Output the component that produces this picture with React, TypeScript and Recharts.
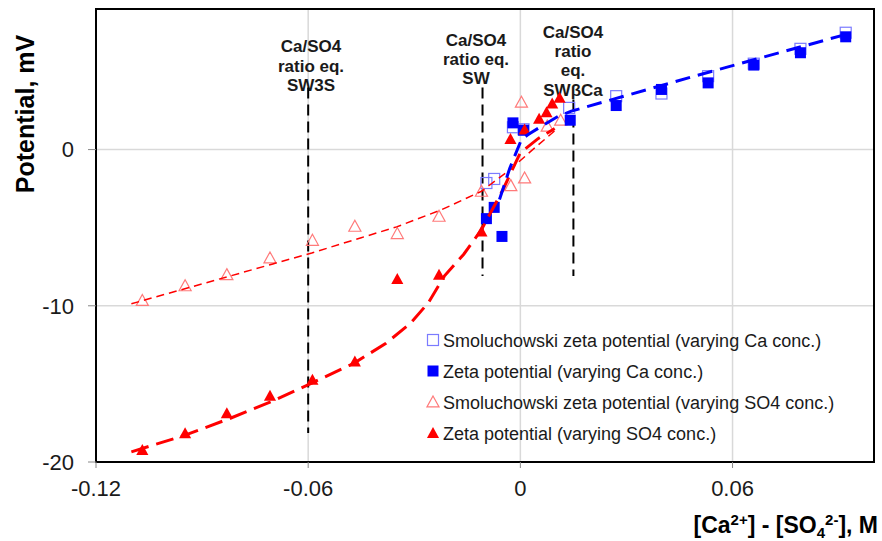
import React from "react";
import {
  ComposedChart,
  Scatter,
  XAxis,
  YAxis,
  CartesianGrid,
  ReferenceLine,
  ReferenceArea,
  Customized,
} from "recharts";

// ---------- data (x = [Ca2+]-[SO4 2-] in M, y = potential in mV) ----------
const xTicks = [-0.12, -0.06, 0, 0.06];
const yTicks = [-20, -10, 0];

const smolCaX = [0.092, 0.0792, 0.066, 0.0531, 0.0399, 0.0271, 0.0138, 0.0009, -0.0021, -0.0074, -0.0096];
const smolCaY = [7.48, 6.45, 5.5, 4.7, 3.59, 3.42, 2.67, 1.3, 1.43, -1.88, -2.14];

const zetaCaX = [0.092, 0.0792, 0.066, 0.0531, 0.0399, 0.0271, 0.0141, 0.0009, -0.0021, -0.0074, -0.0096, -0.0052];
const zetaCaY = [7.22, 6.2, 5.41, 4.27, 3.85, 2.82, 1.88, 1.24, 1.71, -3.7, -4.42, -5.56];

const smolSO4X = [-0.1069, -0.0948, -0.083, -0.0708, -0.0588, -0.0468, -0.0348, -0.023, -0.011, -0.0027, 0.0012, 0.0003, 0.0076, 0.0114];
const smolSO4Y = [-9.66, -8.72, -8.01, -6.94, -5.81, -4.91, -5.38, -4.27, -2.67, -2.31, -1.82, 3.03, 1.5, 1.88];

const zetaSO4X = [-0.1069, -0.0948, -0.083, -0.0708, -0.0588, -0.0468, -0.0348, -0.023, -0.011, -0.0028, 0.0012, 0.0053, 0.0074, 0.009, 0.0111];
const zetaSO4Y = [-19.23, -18.16, -16.88, -15.77, -14.74, -13.57, -8.29, -8.01, -5.24, 0.68, 1.28, 1.97, 2.39, 2.95, 3.31];

// trend lines
const trendCaX = [-0.0059, -0.003, 0.0003, 0.0022, 0.006, 0.0107, 0.0144, 0.05, 0.092];
const trendCaY = [-3.2, -1.2, 0.64, 0.96, 1.5, 2.13, 2.46, 4.75, 7.37];

const trendZetaSO4X = [-0.11, -0.095, -0.082, -0.07, -0.059, -0.047, -0.038, -0.031, -0.026, -0.0215, -0.016, -0.011, -0.005, 0, 0.005, 0.0097];
const trendZetaSO4Y = [-19.35, -18.3, -17.2, -16.1, -14.95, -13.67, -12.4, -11.1, -9.8, -8.1, -6.7, -5.13, -2.6, -0.2, 0.7, 1.35];

const trendSmolSO4X = [-0.11, -0.09, -0.07, -0.059, -0.045, -0.035, -0.0223, -0.011, -0.003, 0.003, 0.0097];
const trendSmolSO4Y = [-9.87, -8.6, -7.32, -6.62, -5.64, -4.95, -3.85, -2.67, -1.3, -0.1, 1.2];

// reference ratio lines
const refX = [-0.06, -0.0107, 0.015];
const refTop = [3.97, 3.97, 3.2];
const refBottom = [-18.14, -8.1, -8.1];

const legendLabels = [
  "Smoluchowski zeta potential (varying Ca conc.)",
  "Zeta potential (varying Ca conc.)",
  "Smoluchowski zeta potential (varying SO4 conc.)",
  "Zeta potential (varying SO4 conc.)",
];

const zip = (xs: number[], ys: number[]) => xs.map((x, i) => ({ x, y: ys[i] }));

const smolCa = zip(smolCaX, smolCaY);
const zetaCa = zip(zetaCaX, zetaCaY);
const smolSO4 = zip(smolSO4X, smolSO4Y);
const zetaSO4 = zip(zetaSO4X, zetaSO4Y);
const trendCa = zip(trendCaX, trendCaY);
const trendZetaSO4 = zip(trendZetaSO4X, trendZetaSO4Y);
const trendSmolSO4 = zip(trendSmolSO4X, trendSmolSO4Y);

// ---------- styles ----------
const FONT = "'Liberation Sans', Arial, Helvetica, sans-serif";
const BLUE = "#0000ff";
const LIGHT_BLUE = "#7b7bff";
const RED = "#ff0000";
const LIGHT_RED = "#ff7a7a";

const OpenSquare = (p: any) => (
  <rect x={p.cx - 5.5} y={p.cy - 5.5} width={11} height={11} fill="none" stroke={LIGHT_BLUE} strokeWidth={1.2} />
);
const FilledSquare = (p: any) => (
  <rect x={p.cx - 5.5} y={p.cy - 5.5} width={11} height={11} fill={BLUE} />
);
const triPath = (cx: number, cy: number, s: number) =>
  `M${cx},${cy - s * 0.55} L${cx + s * 0.55},${cy + s * 0.45} L${cx - s * 0.55},${cy + s * 0.45} Z`;
const OpenTriangle = (p: any) => (
  <path d={triPath(p.cx, p.cy, 11)} fill="none" stroke={LIGHT_RED} strokeWidth={1.2} />
);
const FilledTriangle = (p: any) => <path d={triPath(p.cx, p.cy, 11)} fill={RED} />;
const NoShape = () => <g />;

const annotations = [
  { cx: 311, lines: ["Ca/SO4", "ratio eq.", "SW3S"], base: [52, 72, 91] },
  { cx: 476, lines: ["Ca/SO4", "ratio eq.", "SW"], base: [46, 65, 84] },
  { cx: 573, lines: ["Ca/SO4", "ratio", "eq.", "SWβCa"], base: [38, 57, 76, 96] },
];

const Overlay = () => (
  <g style={{ fontFamily: FONT }}>
    {annotations.map((a, i) => (
      <text key={i} textAnchor="middle" fontSize={17} fontWeight="bold" fill="#1a1a1a">
        {a.lines.map((l, j) => (
          <tspan key={j} x={a.cx} y={a.base[j]}>
            {l}
          </tspan>
        ))}
      </text>
    ))}
    <text
      transform="translate(34,114) rotate(-90)"
      textAnchor="middle"
      fontSize={25}
      fontWeight="bold"
      fill="#000"
    >
      Potential,  mV
    </text>
    <text x={878} y={533} textAnchor="end" fontSize={23} fontWeight="bold" fill="#000">
      [Ca<tspan dy={-8} fontSize={15}>2+</tspan>
      <tspan dy={8}>] - [SO</tspan>
      <tspan dy={5} fontSize={15}>4</tspan>
      <tspan dy={-13} fontSize={15}>2-</tspan>
      <tspan dy={8}>], M</tspan>
    </text>
    {/* legend */}
    {legendLabels.map((t, i) => {
      const y = 340 + i * 31;
      const mx = 433;
      let marker;
      if (i === 0) marker = <OpenSquare cx={mx} cy={y} />;
      else if (i === 1) marker = <FilledSquare cx={mx} cy={y} />;
      else if (i === 2) marker = <OpenTriangle cx={mx} cy={y} />;
      else marker = <FilledTriangle cx={mx} cy={y} />;
      return (
        <g key={i}>
          {marker}
          <text x={443} y={y + 6.5} fontSize={18} fill="#1a1a1a">
            {t}
          </text>
        </g>
      );
    })}
  </g>
);

export default function App() {
  return (
    <div style={{ position: "absolute", left: 0, top: 0, width: 882, height: 541, background: "#fff" }}>
      <ComposedChart width={882} height={541} margin={{ top: 9, right: 8, bottom: 39, left: 0 }}>
        <CartesianGrid stroke="#d9d9d9" strokeWidth={1.5} />
        <XAxis
          type="number"
          dataKey="x"
          domain={[-0.12, 0.1]}
          ticks={xTicks}
          allowDataOverflow
          height={40}
          axisLine={{ stroke: "#000", strokeWidth: 2 }}
          tickLine={{ stroke: "#888" }}
          tickSize={6}
          tickMargin={12}
          tick={{ fontSize: 22, fill: "#1a1a1a", fontFamily: FONT }}
          tickFormatter={(v: number) => String(v)}
        />
        <YAxis
          type="number"
          dataKey="y"
          domain={[-20, 9]}
          ticks={yTicks}
          allowDataOverflow
          width={96}
          axisLine={{ stroke: "#000", strokeWidth: 2 }}
          tickLine={{ stroke: "#888" }}
          tickSize={8}
          tickMargin={14}
          tick={{ fontSize: 22, fill: "#1a1a1a", fontFamily: FONT }}
        />
        <ReferenceArea x1={-0.12} x2={0.1} y1={-20} y2={9} fill="none" stroke="#000" strokeWidth={2} />
        <Scatter data={smolCa} shape={OpenSquare} isAnimationActive={false} />
        <Scatter data={smolSO4} shape={OpenTriangle} isAnimationActive={false} />
        <Scatter data={zetaCa} shape={FilledSquare} isAnimationActive={false} />
        <Scatter data={zetaSO4} shape={FilledTriangle} isAnimationActive={false} />
        <Scatter
          data={trendSmolSO4}
          shape={NoShape}
          line={{ stroke: RED, strokeWidth: 1.5, strokeDasharray: "8 5" }}
          lineType="joint"
          isAnimationActive={false}
        />
        <Scatter
          data={trendZetaSO4}
          shape={NoShape}
          line={{ stroke: RED, strokeWidth: 3, strokeDasharray: "18 8" }}
          lineType="joint"
          isAnimationActive={false}
        />
        <Scatter
          data={trendCa}
          shape={NoShape}
          line={{ stroke: BLUE, strokeWidth: 3, strokeDasharray: "15 8" }}
          lineType="joint"
          isAnimationActive={false}
        />
        {refX.map((x, i) => (
          <ReferenceLine
            key={i}
            segment={[
              { x, y: refTop[i] },
              { x, y: refBottom[i] },
            ]}
            stroke="#000"
            strokeWidth={2}
            strokeDasharray="11 6"
          />
        ))}
        <Customized component={Overlay} />
      </ComposedChart>
    </div>
  );
}
